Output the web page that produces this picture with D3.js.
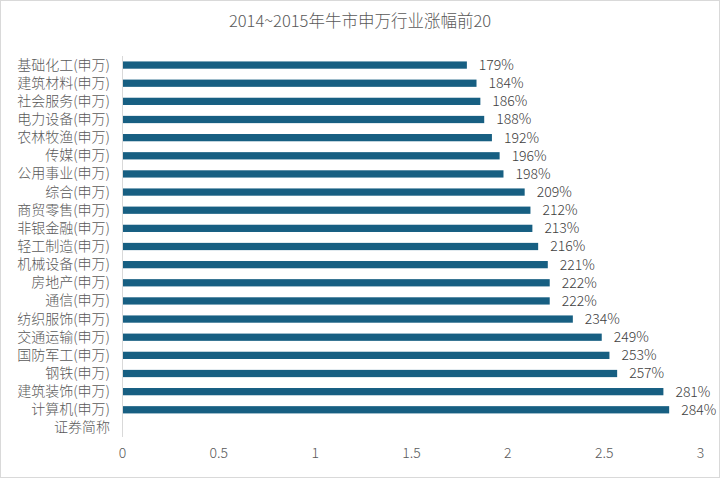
<!DOCTYPE html>
<html><head><meta charset="utf-8">
<script src="https://cdn.jsdelivr.net/npm/d3@7"></script>
<style>
html,body{margin:0;padding:0;background:#fff;}
text{font-family:"Noto Sans CJK SC",sans-serif;font-weight:300;}
</style></head>
<body>
<svg id="chart" width="720" height="478"></svg>
<script>
const title = "2014~2015年牛市申万行业涨幅前20";
const categories = ["基础化工(申万)","建筑材料(申万)","社会服务(申万)","电力设备(申万)","农林牧渔(申万)","传媒(申万)","公用事业(申万)","综合(申万)","商贸零售(申万)","非银金融(申万)","轻工制造(申万)","机械设备(申万)","房地产(申万)","通信(申万)","纺织服饰(申万)","交通运输(申万)","国防军工(申万)","钢铁(申万)","建筑装饰(申万)","计算机(申万)","证券简称"];
const values = [1.79,1.84,1.86,1.88,1.92,1.96,1.98,2.09,2.12,2.13,2.16,2.21,2.22,2.22,2.34,2.49,2.53,2.57,2.81,2.84,null];
const xTicks = [0,0.5,1,1.5,2,2.5,3];

const svg = d3.select("#chart");
svg.append("rect").attr("x",0.5).attr("y",0.5).attr("width",719).attr("height",477)
  .attr("fill","#fff").attr("stroke","#d9d9d9");

svg.append("text").attr("x",360).attr("y",27).attr("text-anchor","middle")
  .attr("font-size",16.5).attr("fill","#595959").text(title);

const x = d3.scaleLinear().domain([0,3]).range([122,700]);
const y = d3.scaleBand().domain(categories).range([56,437]).paddingInner(0.6).paddingOuter(0.3);

svg.append("line").attr("x1",122.5).attr("x2",122.5).attr("y1",56).attr("y2",437)
  .attr("stroke","#d9d9d9");

const data = categories.map((c,i)=>({c, v: values[i]}));

svg.selectAll("rect.bar").data(data.filter(d=>d.v!=null)).enter().append("rect")
  .attr("class","bar").attr("x",x(0)+1).attr("y",d=>y(d.c))
  .attr("width",d=>x(d.v)-x(0)-1).attr("height",y.bandwidth()).attr("fill","#175f82");

svg.selectAll("text.val").data(data.filter(d=>d.v!=null)).enter().append("text")
  .attr("class","val").attr("x",d=>x(d.v)+12).attr("y",d=>y(d.c)+y.bandwidth()/2)
  .attr("dy","0.35em").attr("font-size",14).attr("fill","#404040")
  .text(d=>Math.round(d.v*100)+"%");

const yAxis = d3.axisLeft(y).tickSize(0).tickPadding(12);
const gy = svg.append("g").attr("transform","translate(122,0)").call(yAxis);
gy.select(".domain").remove();
gy.selectAll("text").attr("font-size",14).attr("fill","#595959")
  .style("font-family",'"Noto Sans CJK SC",sans-serif').style("font-weight",300);

const xAxis = d3.axisBottom(x).tickValues(xTicks).tickSize(0).tickPadding(0).tickFormat(d3.format("~g"));
const gx = svg.append("g").attr("transform","translate(0,448)").call(xAxis);
gx.select(".domain").remove();
gx.selectAll("text").attr("font-size",14).attr("fill","#595959")
  .style("font-family",'"Noto Sans CJK SC",sans-serif').style("font-weight",300);
</script>
</body></html>
